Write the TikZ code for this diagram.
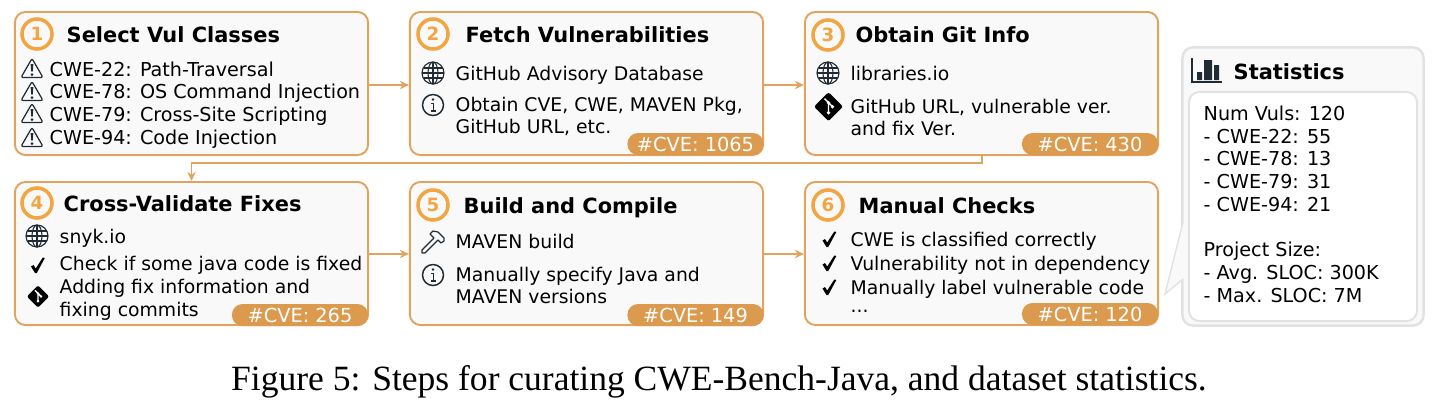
\documentclass[tikz,border=0pt]{standalone}
\usepackage{fontspec}
\usepackage{xcolor}
\setmainfont{DejaVu Sans}
\newfontfamily\capfont{Liberation Serif}
\usetikzlibrary{positioning,calc,arrows.meta}

\definecolor{flowcol}{HTML}{E0A45E}
\definecolor{ringcol}{HTML}{F2A540}
\definecolor{badgecol}{HTML}{DC9A4E}
\definecolor{panelcol}{HTML}{F9F9F9}
\definecolor{framecol}{HTML}{E2E2E2}
\definecolor{iconcol}{HTML}{212B33}

\tikzset{
    stepbox/.style={draw=flowcol, fill=panelcol, line width=0.55pt, rounded corners=3pt,
        minimum width=3.53cm, minimum height=1.43cm, inner sep=0pt},
    numring/.style={circle, draw=ringcol, line width=1pt, minimum size=0.3cm, inner sep=0pt,
        text=ringcol, font=\fontsize{5.2}{6}\selectfont\bfseries},
    boxtitle/.style={anchor=west, inner sep=0pt, text height=4.6pt, text depth=0pt,
        font=\fontsize{5.95}{7.5}\selectfont\bfseries},
    bodytext/.style={anchor=west, inner sep=0pt, align=left, font=\fontsize{5.35}{6.46}\selectfont},
    listtext/.style={bodytext, font=\fontsize{5.45}{6.46}\selectfont},
    oneline/.style={anchor=west, inner sep=0pt, text height=5pt, text depth=1pt,
        font=\fontsize{5.35}{6.46}\selectfont},
    cvebadge/.style={fill=badgecol, rounded corners=3pt, minimum width=1.36cm, minimum height=0.22cm,
        inner sep=0pt, text=white, font=\fontsize{5.5}{6.5}\selectfont},
    flowline/.style={draw=flowcol, line width=0.55pt, -{Stealth[length=2.6pt,width=2.4pt]}},
    warnicon/.pic={
        \draw[iconcol, line width=0.35pt, rounded corners=0.6pt] (0,-10) -- (11,9) -- (-11,9) -- cycle;
        \fill[iconcol] (-1.4,-4.5) -- (1.4,-4.5) -- (0.7,3) -- (-0.7,3) -- cycle;
        \fill[iconcol] (0,6) circle (1.5);
    },
    globeicon/.pic={
        \draw[iconcol, line width=0.33pt] (0,0) circle (11);
        \draw[iconcol, line width=0.3pt] (0,0) circle [x radius=5, y radius=11];
        \draw[iconcol, line width=0.3pt] (0,-11) -- (0,11) (-11,0) -- (11,0)
            (-9.5,-5) -- (9.5,-5) (-9.5,5) -- (9.5,5);
    },
    infoicon/.pic={
        \draw[iconcol, line width=0.42pt] (0,0) circle (10.5);
        \fill[iconcol] (0,-5.5) circle (1.4);
        \draw[iconcol, line width=0.42pt] (-1.6,-1.5) -- (0.3,-1.5) -- (0.3,6) (-2.2,6) -- (2.8,6);
    },
    giticon/.pic={
        \fill[black, rounded corners=0.6pt] (-14.5,0) -- (0,-14.5) -- (14.5,0) -- (0,14.5) -- cycle;
        \draw[white, line width=0.4pt] (-4,-8) -- (4,0) (0,-4) -- (0,6);
        \fill[white] (0,-4) circle (1.8) (4,0) circle (1.8) (0,6) circle (1.8);
    },
    checkicon/.pic={
        \fill[black] (-7,1) -- (-4.5,-0.5) -- (-2.3,3) -- (4.8,-8) -- (6.8,-7.5) -- (-1.2,7.5) -- (-3,7.5) -- cycle;
    },
    hammericon/.pic={
        \draw[iconcol, line width=0.33pt, line join=round]
            (-11,8) -- (1,-4) -- (-3,-8) -- (0,-11) -- (5,-10) -- (11,-4) -- (11,-1) -- (8,1)
            -- (5,-2) -- (3,0) -- (-8,11) -- (-11,11) -- cycle;
    },
    charticon/.pic={
        \draw[iconcol, line width=0.6pt] (0,0) -- (0,24) -- (30,24);
        \fill[iconcol] (5,14) rectangle (10,22) (12,2) rectangle (20,22) (22,7) rectangle (27,22);
    }
}

\begin{document}
\begin{tikzpicture}[x=0.01cm, y=-0.01cm]
    \useasboundingbox (0,0) rectangle (1438,402);

    % top row
    \node[stepbox] (box1) at (191.5,83.5) {};
    \node[stepbox] (box2) at (586.5,83.5) {};
    \node[stepbox] (box3) at (981.5,83.5) {};
    % bottom row
    \node[stepbox] (box4) at (191.5,253.5) {};
    \node[stepbox] (box5) at (586.5,253.5) {};
    \node[stepbox] (box6) at (981.5,253.5) {};

    % flow between the steps
    \draw[flowline] ([yshift=-0.015cm]box1.east) -- ([yshift=-0.015cm]box2.west);
    \draw[flowline] ([yshift=-0.015cm]box2.east) -- ([yshift=-0.015cm]box3.west);
    \coordinate (turn) at (982,163);
    \draw[flowline] (turn |- box3.south) -- (turn) -- (turn -| box4.north) -- (box4.north);
    \draw[flowline] ([yshift=-0.005cm]box4.east) -- ([yshift=-0.005cm]box5.west);
    \draw[flowline] ([yshift=-0.005cm]box5.east) -- ([yshift=-0.005cm]box6.west);

    % step 1
    \node[numring] (num1) at (37,34) {1};
    \node[boxtitle] (title1) at (66,34.5) {Select Vul Classes};
    \pic at (32,68.5) {warnicon};
    \pic at (32,91.5) {warnicon};
    \pic at (32,113.5) {warnicon};
    \pic at (32,137.5) {warnicon};
    \node[listtext] (text1) at (49,105) {CWE-22: Path-Traversal\\CWE-78: OS Command Injection\\CWE-79: Cross-Site Scripting\\CWE-94: Code Injection};

    % step 2
    \node[numring] (num2) at (433,34) {2};
    \node[boxtitle] (title2) at (465,34) {Fetch Vulnerabilities};
    \pic at (433,73) {globeicon};
    \node[oneline] (text2a) at (455,73) {GitHub Advisory Database};
    \pic at (433,105) {infoicon};
    \node[bodytext] (text2b) at (455,116.5) {Obtain CVE, CWE, MAVEN Pkg,\\GitHub URL, etc.};
    \node[cvebadge] (cve2) at (695.5,144) {\#CVE: 1065};

    % step 3
    \node[numring] (num3) at (828,35) {3};
    \node[boxtitle] (title3) at (855,34.7) {Obtain Git Info};
    \pic at (828,73) {globeicon};
    \node[oneline] (text3a) at (850,73) {libraries.io};
    \pic at (828.5,106.7) {giticon};
    \node[bodytext] (text3b) at (850,117.5) {GitHub URL, vulnerable ver.\\and fix Ver.};
    \node[cvebadge] (cve3) at (1090,144) {\#CVE: 430};

    % step 4
    \node[numring] (num4) at (37,203) {4};
    \node[boxtitle] (title4) at (63,203.6) {Cross-Validate Fixes};
    \pic at (37,236) {globeicon};
    \node[oneline] (text4a) at (59,236) {snyk.io};
    \pic at (38,265.5) {checkicon};
    \node[oneline] (text4b) at (59,263) {Check if some java code is fixed};
    \pic[scale=0.77] at (38,296.5) {giticon};
    \node[bodytext] (text4c) at (59,299.5) {Adding fix information and\\fixing commits};
    \node[cvebadge] (cve4) at (300,315) {\#CVE: 265};

    % step 5
    \node[numring] (num5) at (433,205) {5};
    \node[boxtitle] (title5) at (463,205) {Build and Compile};
    \pic at (433,242) {hammericon};
    \node[oneline] (text5a) at (455,241) {MAVEN build};
    \pic at (433,275) {infoicon};
    \node[bodytext] (text5b) at (455,285.5) {Manually specify Java and\\MAVEN versions};
    \node[cvebadge] (cve5) at (695.5,315) {\#CVE: 149};

    % step 6
    \node[numring] (num6) at (828,205) {6};
    \node[boxtitle] (title6) at (858,205.5) {Manual Checks};
    \pic at (829.5,239.5) {checkicon};
    \pic at (829.5,263.5) {checkicon};
    \pic at (829.5,287.5) {checkicon};
    \node[oneline] (text6a) at (850,239) {CWE is classified correctly};
    \node[oneline] (text6b) at (850,263) {Vulnerability not in dependency};
    \node[oneline] (text6c) at (850,287) {Manually label vulnerable code};
    \node[oneline] (text6d) at (850,305) {...};
    \node[cvebadge] (cve6) at (1090,314) {\#CVE: 120};

    % statistics panel
    \node[draw=framecol, fill=panelcol, line width=0.7pt, rounded corners=3pt, minimum width=2.41cm,
        minimum height=2.78cm, inner sep=0pt] (statsouter) at (1303,186.5) {};
    \coordinate (tailtop) at (1183,222);
    \coordinate (tailtip) at (1165,294);
    \coordinate (tailbot) at (1183,279);
    \fill[panelcol] (tailtop) -- (tailtip) -- (tailbot) -- (1186,279) -- (1186,222) -- cycle;
    \draw[framecol, line width=0.4pt] (tailtop) -- (tailtip) -- (tailbot);
    \pic at (1192,58) {charticon};
    \node[boxtitle] (titlestats) at (1233,71) {Statistics};
    \node[draw=framecol, fill=white, line width=0.55pt, rounded corners=3pt, minimum width=2.28cm,
        minimum height=2.29cm, inner sep=0pt] (statsinner) at (1303,206.5) {};
    \node[listtext] (textstats) at (1203,204) {Num Vuls: 120\\- CWE-22: 55\\- CWE-78: 13\\- CWE-79: 31\\- CWE-94: 21\\[6.46pt]Project Size:\\- Avg. SLOC: 300K\\- Max. SLOC: 7M};

    % caption
    \node[inner sep=0pt, font=\capfont\fontsize{10.1}{12}\selectfont] (caption) at (719,381.5) {Figure 5: Steps for curating CWE-Bench-Java, and dataset statistics.};
\end{tikzpicture}
\end{document}
